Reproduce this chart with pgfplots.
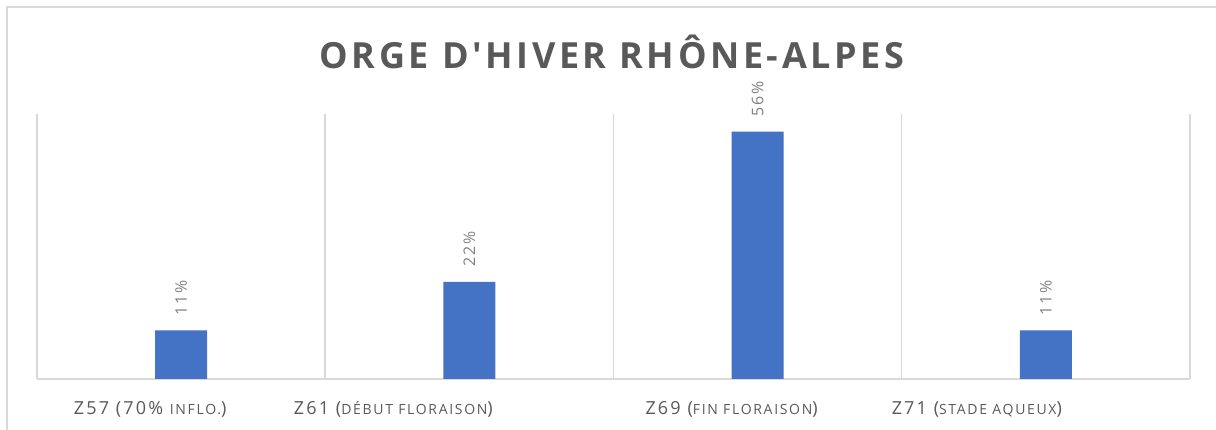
\documentclass[border=0pt]{standalone}
\usepackage{pgfplots}
\pgfplotsset{compat=1.18}
\usepackage{fontspec}
\setmainfont{Open Sans}
\newfontfamily\titlefont[LetterSpace=10]{Open Sans}
\newfontfamily\labelfont[LetterSpace=12]{Open Sans}
\definecolor{barblue}{HTML}{4472C4}
\definecolor{gridc}{HTML}{D9D9D9}
\definecolor{txt}{HTML}{595959}
\definecolor{lbl}{HTML}{808080}
\newcommand\smc[1]{{\fontsize{14pt}{14pt}\selectfont #1}}
\begin{document}
\begin{tikzpicture}
\useasboundingbox (0,0) rectangle (1216pt,430pt);
\begin{scope}
\clip (0,0) rectangle (1216pt,430pt);
\draw[gridc, line width=2pt] (7pt,-5pt) -- (7pt,423pt) -- (1230pt,423pt);
\end{scope}
\node[anchor=base, text=txt, font=\titlefont\bfseries\fontsize{36pt}{40pt}\selectfont] at (612pt,361pt) {ORGE D'HIVER RHÔNE-ALPES};
\begin{axis}[
  at={(37pt,51pt)}, anchor=south west,
  scale only axis, width=1153pt, height=265pt,
  xmin=-0.5, xmax=3.5, ymin=0, ymax=60,
  ybar, bar width=52pt,
  axis x line=bottom, axis y line=none,
  axis line style={gridc, line width=1.5pt, -},
  xtick=data, major tick length=0pt, minor tick length=0pt,
  minor xtick={-0.5,0.5,1.5,2.5,3.5},
  xminorgrids, minor grid style={gridc, line width=1.5pt},
  xticklabels={
    {Z57 (70\% \smc{INFLO.})\hspace*{62pt}},
    {Z61 (\smc{DÉBUT FLORAISON})\hspace*{152pt}},
    {Z69 (\smc{FIN FLORAISON})\hspace*{52pt}},
    {Z71 (\smc{STADE AQUEUX})\hspace*{138pt}}},
  xticklabel style={anchor=base, yshift=-36pt, text=txt, font=\labelfont\fontsize{18pt}{20pt}\selectfont},
  /pgf/number format/assume math mode=true,
  nodes near coords={\pgfmathprintnumber{\pgfplotspointmeta}\%},
  nodes near coords style={yshift=15pt, rotate=90, anchor=west, inner sep=0pt, text=lbl, font=\labelfont\fontsize{16pt}{18pt}\selectfont},
]
\addplot[fill=barblue, draw=none] coordinates {(0,11) (1,22) (2,56) (3,11)};
\end{axis}
\end{tikzpicture}
\end{document}
